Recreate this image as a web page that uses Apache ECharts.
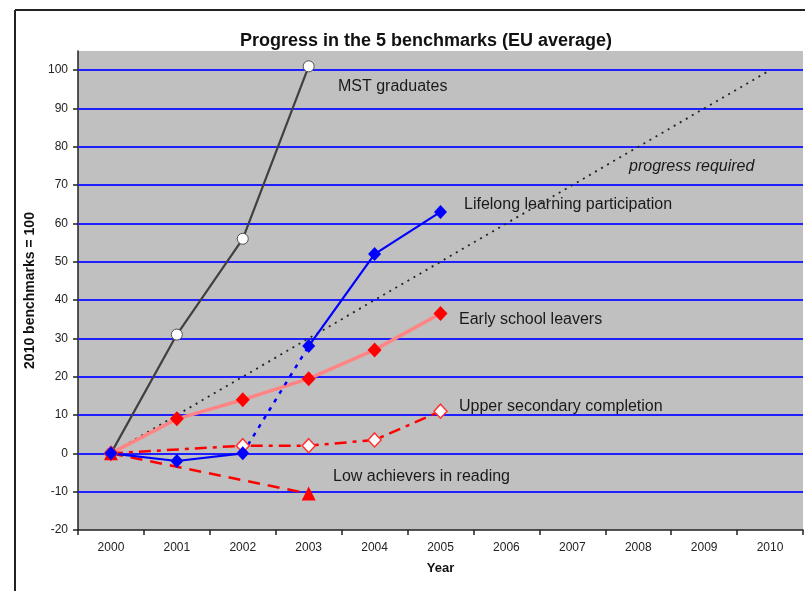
<!DOCTYPE html>
<html>
<head>
<meta charset="utf-8">
<script src="https://cdn.jsdelivr.net/npm/echarts@6/dist/echarts.min.js"></script>
<style>
  html, body { margin: 0; padding: 0; background: #fff; }
  #chart { width: 805px; height: 591px; }
</style>
</head>
<body>
<div id="chart"></div>
<script>
// categories and tick values
const YEARS = ['2000', '2001', '2002', '2003', '2004', '2005', '2006', '2007', '2008', '2009', '2010']
const Y_TICKS = [-20, -10, 0, 10, 20, 30, 40, 50, 60, 70, 80, 90, 100]
const GRID_LINES = [-10, 0, 10, 20, 30, 40, 50, 60, 70, 80, 90, 100]

// series values (2010 benchmarks = 100)
const MST = [0, 31, 56, 101]
const LIFELONG_START = [0, -2, 0]
const LIFELONG_BREAK = [null, null, 0, 28]
const LIFELONG_END = [null, null, null, 28, 52, 63]
const EARLY_LEAVERS = [0, 9, 14, 19.5, 27, 36.5]
const UPPER_SECONDARY = [0, null, 2, 2, 3.5, 11]
const LOW_ACHIEVERS = [0, null, null, -10.5]
const REQUIRED = [0, null, null, null, null, null, null, null, null, null, 100]

const FONT = '"Liberation Sans", Arial, sans-serif'

const chart = echarts.init(document.getElementById('chart'))

// 注释文字
const note = (text, x, y, italic) => ({
  type: 'text',
  x: x,
  y: y,
  style: {
    text: text,
    fill: '#1a1a1a',
    font: (italic ? 'italic ' : '') + '16px ' + FONT,
    verticalAlign: 'middle'
  }
})

const option = {
  animation: false,
  textStyle: { fontFamily: FONT },
  title: {
    text: 'Progress in the 5 benchmarks (EU average)',
    left: 421,
    top: 27,
    textAlign: 'center',
    textStyle: { fontSize: 18, fontWeight: 'bold', color: '#111', fontFamily: FONT }
  },
  grid: {
    left: 78,
    right: 2,
    top: 51,
    bottom: 61,
    show: true,
    backgroundColor: '#c0c0c0',
    borderWidth: 0
  },
  xAxis: {
    type: 'category',
    data: YEARS,
    boundaryGap: true,
    name: 'Year',
    nameLocation: 'middle',
    nameGap: 32,
    nameTextStyle: { fontSize: 13, fontWeight: 'bold', color: '#111' },
    axisLine: { onZero: false, lineStyle: { color: '#222', width: 1.5 } },
    axisTick: { show: true, length: 5, lineStyle: { color: '#222', width: 1.5 } },
    axisLabel: { fontSize: 12, color: '#222', margin: 12 },
    splitLine: { show: false }
  },
  yAxis: {
    type: 'value',
    min: -20,
    max: 105,
    name: '2010 benchmarks = 100',
    nameLocation: 'middle',
    nameGap: 41,
    nameTextStyle: { fontSize: 14, fontWeight: 'bold', color: '#111' },
    axisLine: { show: true, lineStyle: { color: '#222', width: 1.5 } },
    axisTick: { show: true, length: 5, customValues: Y_TICKS, lineStyle: { color: '#222', width: 1.5 } },
    axisLabel: { fontSize: 12, color: '#222', margin: 10, customValues: Y_TICKS },
    splitLine: { show: false }
  },
  graphic: [
    { type: 'line', shape: { x1: 15, y1: 10, x2: 15, y2: 591 }, style: { stroke: '#222', lineWidth: 2 } },
    { type: 'line', shape: { x1: 15, y1: 10, x2: 805, y2: 10 }, style: { stroke: '#222', lineWidth: 2 } },
    note('MST graduates', 338, 87),
    note('progress required', 629, 167, true),
    note('Lifelong learning participation', 464, 205),
    note('Early school leavers', 459, 320),
    note('Upper secondary completion', 459, 407),
    note('Low achievers in reading', 333, 477)
  ],
  series: [
    {
      name: 'progress required',
      type: 'line',
      data: REQUIRED,
      connectNulls: true,
      showSymbol: false,
      lineStyle: { color: '#222', width: 1.8, type: [2, 5] },
      markLine: {
        silent: true,
        z: 1,
        symbol: 'none',
        label: { show: false },
        lineStyle: { color: '#1f1fff', width: 2, type: 'solid' },
        data: GRID_LINES.map(v => ({ yAxis: v }))
      }
    },
    {
      name: 'MST graduates',
      type: 'line',
      data: MST,
      symbol: 'circle',
      symbolSize: 11,
      lineStyle: { color: '#404040', width: 2.2 },
      itemStyle: { color: '#fff', borderColor: '#505050', borderWidth: 1 }
    },
    {
      name: 'Early school leavers',
      type: 'line',
      data: EARLY_LEAVERS,
      symbol: 'diamond',
      symbolSize: [14, 15],
      lineStyle: { color: '#ff8585', width: 3.5 },
      itemStyle: { color: '#ff0000' }
    },
    {
      name: 'Upper secondary completion',
      type: 'line',
      data: UPPER_SECONDARY,
      connectNulls: true,
      symbol: 'diamond',
      symbolSize: [13, 14],
      lineStyle: { color: '#ff0000', width: 2.5, type: [12, 6, 4, 6] },
      itemStyle: { color: '#fff', borderColor: '#ff3030', borderWidth: 1.5 }
    },
    {
      name: 'Low achievers in reading',
      type: 'line',
      data: LOW_ACHIEVERS,
      connectNulls: true,
      symbol: 'triangle',
      symbolSize: 14,
      lineStyle: { color: '#ff0000', width: 2.5, type: [12, 8] },
      itemStyle: { color: '#ff0000' }
    },
    {
      name: 'Lifelong learning (gap)',
      type: 'line',
      data: LIFELONG_BREAK,
      showSymbol: false,
      lineStyle: { color: '#0000ff', width: 2.5, type: [4, 6] }
    },
    {
      name: 'Lifelong learning participation',
      type: 'line',
      data: LIFELONG_START,
      symbol: 'diamond',
      symbolSize: [13, 14],
      lineStyle: { color: '#0000ff', width: 2.2 },
      itemStyle: { color: '#0000ff' }
    },
    {
      name: 'Lifelong learning participation 2',
      type: 'line',
      data: LIFELONG_END,
      symbol: 'diamond',
      symbolSize: [13, 14],
      lineStyle: { color: '#0000ff', width: 2.2 },
      itemStyle: { color: '#0000ff' }
    }
  ]
}

chart.setOption(option)
</script>
</body>
</html>
